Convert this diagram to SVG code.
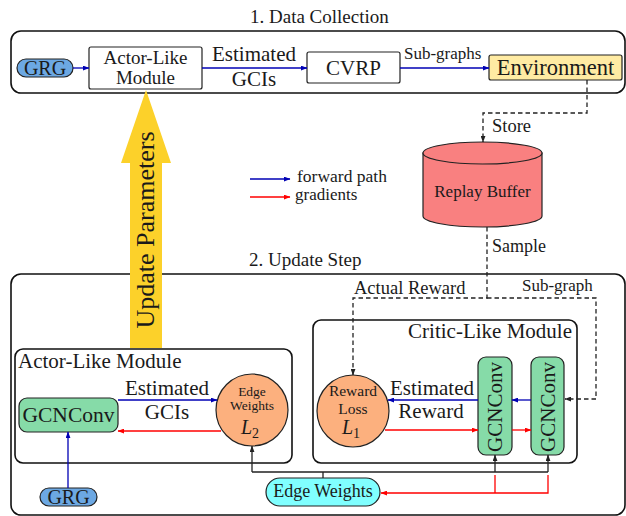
<svg xmlns="http://www.w3.org/2000/svg" width="626" height="516" viewBox="0 0 626 516">
<style>
text{font-family:"Liberation Serif","Times New Roman",serif;fill:#1a1a1a}
.frame{fill:none;stroke:#111;stroke-width:1.6}
.box{stroke:#222;stroke-width:1.2}
.blue{fill:none;stroke:#0000b4;stroke-width:1.3;marker-end:url(#ab)}
.red{fill:none;stroke:#ff0000;stroke-width:1.3;marker-end:url(#ar)}
.redl{fill:none;stroke:#ff0000;stroke-width:1.3}
.blk{fill:none;stroke:#222;stroke-width:1.3;marker-end:url(#ak)}
.blkl{fill:none;stroke:#222;stroke-width:1.3}
.dash{fill:none;stroke:#222;stroke-width:1.3;stroke-dasharray:4.5,3;marker-end:url(#ak)}
.green{fill:#86dba8}
.peach{fill:#fcb07e}
.grg{fill:#6ca8e3}
.c{text-anchor:middle}
</style>
<defs>
<marker id="ab" viewBox="0 0 8 6" refX="7.5" refY="3" markerWidth="7" markerHeight="5" markerUnits="userSpaceOnUse" orient="auto"><path d="M0,0 L8,3 L0,6 z" fill="#0000b4"/></marker>
<marker id="ar" viewBox="0 0 8 6" refX="7.5" refY="3" markerWidth="7" markerHeight="5" markerUnits="userSpaceOnUse" orient="auto"><path d="M0,0 L8,3 L0,6 z" fill="#ff0000"/></marker>
<marker id="ak" viewBox="0 0 8 6" refX="7.5" refY="3" markerWidth="7" markerHeight="5" markerUnits="userSpaceOnUse" orient="auto"><path d="M0,0 L8,3 L0,6 z" fill="#222"/></marker>
</defs>

<g id="frames">
<rect class="frame" x="11" y="31" width="614" height="62" rx="10"/>
<text x="250" y="23" font-size="19">1. Data Collection</text>
<rect class="frame" x="11" y="274" width="614" height="241" rx="10"/>
<text x="249" y="266" font-size="19">2. Update Step</text>
</g>

<g id="update-arrow">
<polygon points="130,348 130,163 121,163 146,90 171,163 162,163 162,348" fill="#fcd12a"/>
<text transform="translate(154,230) rotate(-90)" class="c" font-size="26">Update Parameters</text>
</g>

<g id="grg-top">
<rect class="box grg" x="17" y="59" width="56" height="18" rx="9"/>
<text x="45" y="75" class="c" font-size="20">GRG</text>
</g>
<g id="actor-top">
<rect class="box" fill="#fff" x="89" y="47" width="113" height="42" rx="2"/>
<text x="145.5" y="64" class="c" font-size="19">Actor-Like</text>
<text x="145.5" y="84" class="c" font-size="19">Module</text>
</g>
<g id="cvrp">
<rect class="box" fill="#fff" x="307" y="52" width="93" height="31" rx="2"/>
<text x="353.5" y="75" class="c" font-size="21">CVRP</text>
</g>
<g id="environment">
<rect class="box" fill="#ffeba3" x="489" y="55" width="133" height="25" rx="2"/>
<text x="555.5" y="75" class="c" font-size="22.5">Environment</text>
</g>
<g id="replay-buffer">
<path d="M423,153 V216 A59.5,11 0 0 0 542,216 V153 Z" fill="#f98080" stroke="#222" stroke-width="1.2"/>
<ellipse cx="482.5" cy="153" rx="59.5" ry="11" fill="#f98080" stroke="#222" stroke-width="1.2"/>
<text x="482.5" y="197" class="c" font-size="17">Replay Buffer</text>
</g>

<g id="legend">
<path class="blue" d="M250,179 H290"/>
<text x="297" y="182" font-size="17.5">forward path</text>
<path class="red" d="M250,197 H290"/>
<text x="295" y="200" font-size="17">gradients</text>
</g>

<g id="actor-module">
<rect class="frame" x="15" y="349" width="277" height="114" rx="8"/>
<text x="18" y="368" font-size="21">Actor-Like Module</text>
</g>
<g id="actor-gcnconv">
<rect class="box green" x="19" y="398" width="99" height="34" rx="8"/>
<text x="68.5" y="422" class="c" font-size="21.5">GCNConv</text>
</g>
<g id="edge-weights-l2">
<circle class="box peach" cx="252" cy="410" r="36"/>
<text x="252" y="396" class="c" font-size="13.5">Edge</text>
<text x="252" y="410" class="c" font-size="13.5">Weights</text>
<text x="250" y="434" class="c" font-size="20"><tspan font-style="italic">L</tspan><tspan font-size="14" dy="4">2</tspan></text>
</g>
<g id="grg-bottom">
<rect class="box grg" x="40" y="488" width="57" height="18" rx="9"/>
<text x="68.5" y="504" class="c" font-size="20">GRG</text>
</g>

<g id="critic-module">
<rect class="frame" x="313" y="320" width="264" height="143" rx="8"/>
<text x="572" y="338" text-anchor="end" font-size="21">Critic-Like Module</text>
</g>
<g id="reward-loss-l1">
<circle class="box peach" cx="353" cy="411" r="36"/>
<text x="353" y="396" class="c" font-size="15.5">Reward</text>
<text x="353" y="414" class="c" font-size="15.5">Loss</text>
<text x="351" y="434" class="c" font-size="20"><tspan font-style="italic">L</tspan><tspan font-size="14" dy="4">1</tspan></text>
</g>
<g id="critic-gcnconv-1">
<rect class="box green" x="478" y="357" width="34" height="98" rx="8"/>
<text transform="translate(502,407) rotate(-90)" class="c" font-size="21">GCNConv</text>
</g>
<g id="critic-gcnconv-2">
<rect class="box green" x="531" y="357" width="33" height="98" rx="8"/>
<text transform="translate(554.5,407) rotate(-90)" class="c" font-size="21">GCNConv</text>
</g>
<g id="edge-weights">
<rect class="box" fill="#80ffff" x="266" y="478" width="114" height="28" rx="14"/>
<text x="323" y="497" class="c" font-size="18">Edge Weights</text>
</g>

<g id="connectors">
<path class="blue" d="M73,68 H89"/>
<path class="blue" d="M202,68 H307"/>
<text x="254" y="61" class="c" font-size="21">Estimated</text>
<text x="254" y="86" class="c" font-size="21">GCIs</text>
<path class="blue" d="M400,68 H489"/>
<text x="404" y="59" font-size="17">Sub-graphs</text>

<path class="dash" d="M587,80 V113 H483 V142"/>
<text x="492" y="132" font-size="18.5">Store</text>
<path class="dash" d="M487,227 V298 H353 V375"/>
<path class="dash" d="M487,298 H596 V399 H565"/>
<text x="492" y="252" font-size="18">Sample</text>
<text x="354" y="294" font-size="18.5">Actual Reward</text>
<text x="522" y="291" font-size="17">Sub-graph</text>

<path class="blue" d="M118,400 H217"/>
<text x="167" y="395" class="c" font-size="21">Estimated</text>
<text x="167" y="419" class="c" font-size="21">GCIs</text>
<path class="red" d="M221,431 H118"/>
<path class="blue" d="M68,488 V432"/>

<path class="blue" d="M478,400 H388"/>
<text x="432" y="395" class="c" font-size="21">Estimated</text>
<text x="431" y="418" class="c" font-size="21">Reward</text>
<path class="red" d="M385,430 H478"/>
<path class="blue" d="M531,400 H512"/>
<path class="red" d="M512,430 H531"/>

<path class="blkl" d="M323,478 V472 M252,472 H548"/>
<path class="blk" d="M252,472 V446"/>
<path class="blk" d="M495,472 V455"/>
<path class="blk" d="M548,472 V455"/>
<path class="redl" d="M495,475 V493"/>
<path class="red" d="M548,475 V493 H381"/>
</g>
</svg>
